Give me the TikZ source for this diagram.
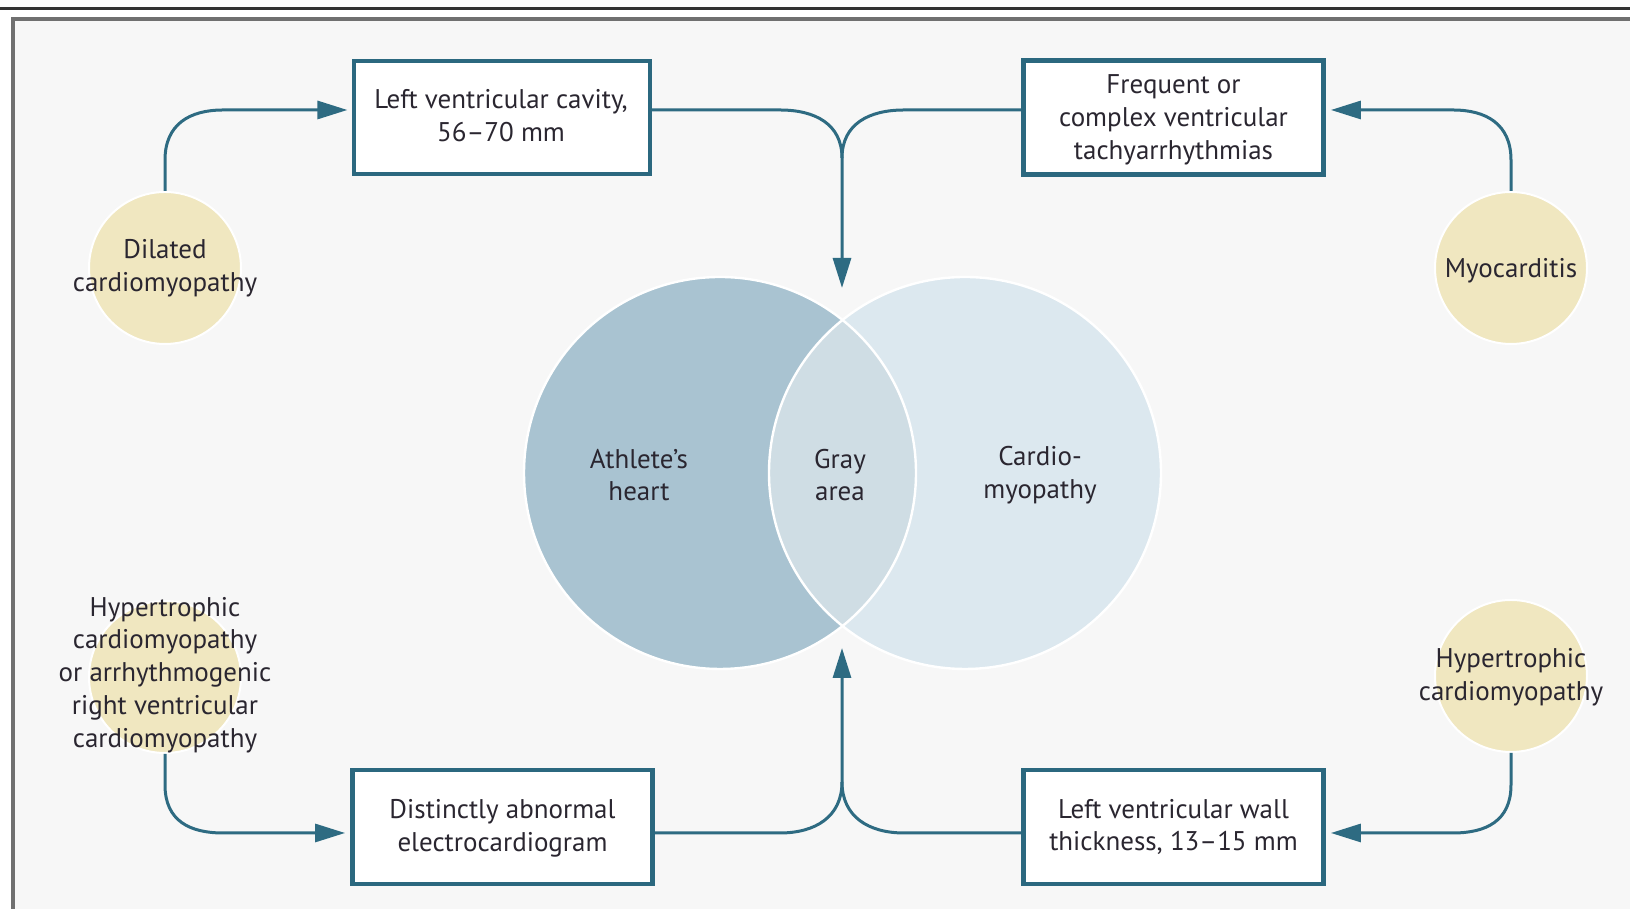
\documentclass[tikz,border=0pt]{standalone}
\usepackage{fontspec}
\setmainfont{PT Sans}
\usetikzlibrary{arrows.meta,calc}
\definecolor{arrowc}{HTML}{2E6B82}
\definecolor{boxc}{HTML}{2B687F}
\definecolor{txtc}{HTML}{2A2630}
\definecolor{yelc}{HTML}{F0E7C0}
\definecolor{athc}{HTML}{A9C3D1}
\definecolor{cardc}{HTML}{DCE8EF}
\definecolor{lensc}{HTML}{CFDDE4}
\definecolor{panelc}{HTML}{F7F7F7}
\definecolor{framec}{HTML}{707070}
\begin{document}
\begin{tikzpicture}[x=0.5pt,y=0.5pt,
  lbl/.style={text=txtc, font=\fontsize{13.5}{16.4}\selectfont, align=center, inner sep=0pt},
  boxa/.style={draw=boxc, fill=white, line width=1.6pt, minimum width=148pt, minimum height=56.5pt, inner sep=0pt},
  boxb/.style={draw=boxc, fill=white, line width=2.4pt, minimum width=150pt, minimum height=57pt, inner sep=0pt},
  disc/.style={circle, fill=yelc, draw=white, line width=1pt, minimum size=76pt, inner sep=0pt},
  conn/.style={draw=arrowc, line width=1.5pt},
  tip/.style={-{Triangle[length=15pt,width=9pt]}}
]
\useasboundingbox (0,0) rectangle (1630,909);
\fill[white] (0,0) rectangle (1630,909);
% panel
\fill[panelc] (12.5,-10) rectangle (1640,889.5);
\draw[framec, line width=2pt] (12.5,-10) -- (12.5,889.5) -- (1640,889.5);
\draw[black!80, line width=1.5pt] (0,900) -- (1630,900);

% Venn diagram
\fill[cardc] (965,436) circle[radius=196];
\fill[athc] (720,436) circle[radius=196];
\begin{scope}
  \clip (720,436) circle[radius=196];
  \fill[lensc] (965,436) circle[radius=196];
\end{scope}
\draw[white, line width=1.2pt] (720,436) circle[radius=196];
\draw[white, line width=1.2pt] (965,436) circle[radius=196];
\node[lbl] (ath) at (639,434) {Athlete’s\\heart};
\node[lbl] (gray) at (840,434) {Gray\\area};
\node[lbl] (card) at (1040,434) {Cardio-\\myopathy};

% boxes
\node[boxa] (lvc) at (502,791.5) {};
\node[lbl] (lvct) at (501,793) {Left ventricular cavity,\\56–70 mm};
\node[boxb] (fct) at (1173.5,791.5) {};
\node[lbl] (fctt) at (1173.5,789) {Frequent or\\complex ventricular\\tachyarrhythmias};
\node[boxb] (dae) at (502.5,82) {};
\node[lbl] (daet) at (502.5,81) {Distinctly abnormal\\electrocardiogram};
\node[boxb] (lvw) at (1173.5,82) {};
\node[lbl] (lvwt) at (1173.5,82) {Left ventricular wall\\thickness, 13–15 mm};

% circles
\node[disc] (dil) at (165,641) {};
\node[lbl] (dilt) at (165,641) {Dilated\\cardiomyopathy};
\node[disc] (myo) at (1511,641) {};
\node[lbl] (myot) at (1511,638) {Myocarditis};
\node[disc] (arvc) at (165,232) {};
\node[lbl] (arvct) at (165,234) {Hypertrophic\\cardiomyopathy\\or arrhythmogenic\\right ventricular\\cardiomyopathy};
\node[disc] (hcm) at (1511,233) {};
\node[lbl] (hcmt) at (1511,232) {Hypertrophic\\cardiomyopathy};

% merge points
\coordinate (mtop) at (842,751);
\coordinate (mbot) at (842,127);
\coordinate (vtop) at (842,621);
\coordinate (vbot) at (842,261);

% top connectors
\draw[conn, tip] ($(lvc.east)+(0,7.5)$) -- (780,799) .. controls (815,799) and (842,785) .. (mtop) -- (vtop);
\draw[conn] ($(fct.west)+(0,7.5)$) -- (904,799) .. controls (869,799) and (842,785) .. (mtop);
% bottom connectors
\draw[conn, tip] ($(dae.east)+(0,-6)$) -- (780,76) .. controls (815,76) and (842,92) .. (mbot) -- (vbot);
\draw[conn] ($(lvw.west)+(0,-6)$) -- (904,76) .. controls (869,76) and (842,92) .. (mbot);

% circle connectors
\draw[conn, tip] (dil.north) -- (165,749) .. controls (165,785) and (190,799) .. (223,799) -- ($(lvc.west)+(-5,7.5)$);
\draw[conn, tip] (myo.north) -- (1511,749) .. controls (1511,785) and (1486,799) .. (1453,799) -- ($(fct.east)+(5,7.5)$);
\draw[conn, tip] (arvc.south) -- (165,124) .. controls (165,88) and (190,76) .. (223,76) -- ($(dae.west)+(-5,-6)$);
\draw[conn, tip] (hcm.south) -- (1511,124) .. controls (1511,88) and (1486,76) .. (1453,76) -- ($(lvw.east)+(5,-6)$);
\end{tikzpicture}
\end{document}
